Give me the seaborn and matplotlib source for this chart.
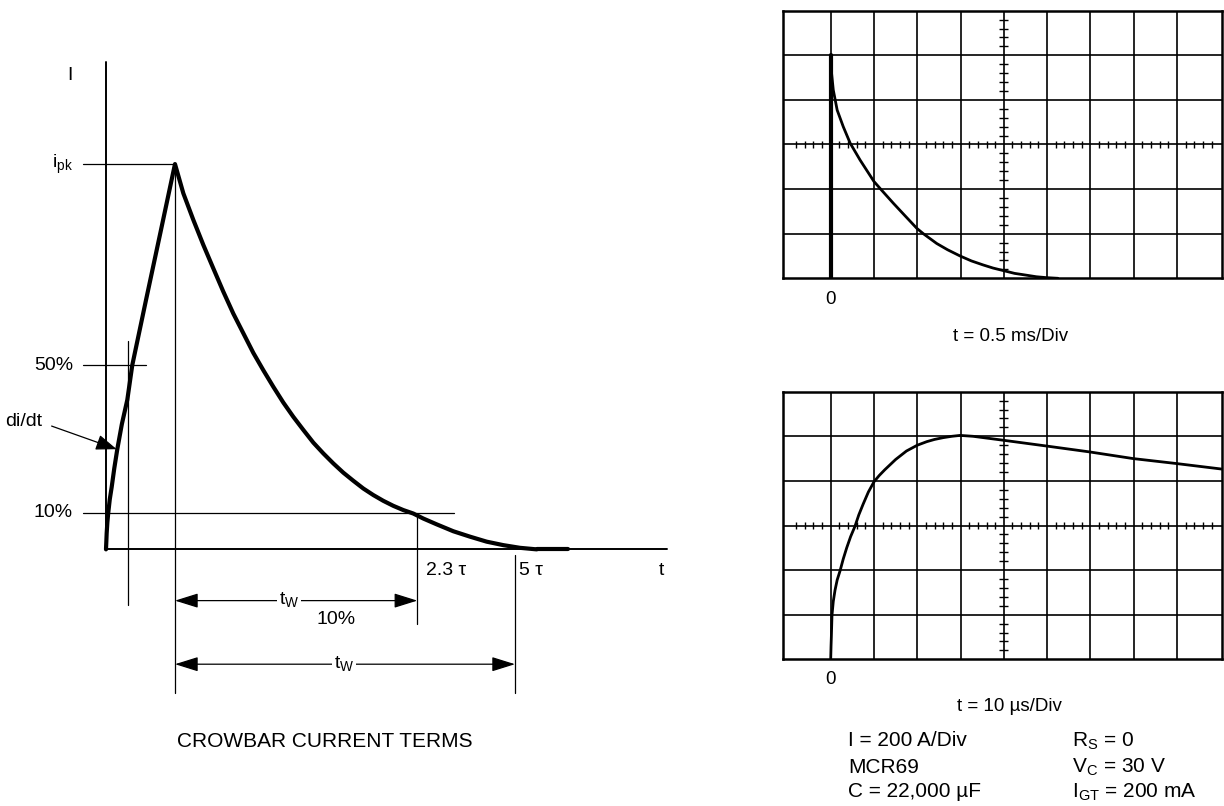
import numpy as np
import matplotlib
matplotlib.use("Agg")
import matplotlib.pyplot as plt
import seaborn as sns
from matplotlib.patches import ArrowStyle

sns.set_theme(style="white")
plt.rcParams["font.family"] = ["Liberation Sans", "DejaVu Sans"]
NARROW = ["Liberation Sans Narrow", "Liberation Sans", "DejaVu Sans"]

# -----------------------------
# Data
# -----------------------------

# left sketch: time in sketch units (peak = 1), current as fraction of i_pk
crowbar_t = [0, 0.005, 0.01, 0.02, 0.033, 0.055, 0.083, 0.12, 0.164, 0.23,
             0.309, 0.381, 0.58, 0.79, 1.0,
             1.121, 1.266, 1.411, 1.556, 1.7, 1.845, 1.99, 2.135, 2.28,
             2.425, 2.57, 2.715, 2.86, 3.005, 3.15, 3.295, 3.44, 3.585,
             3.729, 3.874, 4.019, 4.164, 4.309, 4.454, 4.599, 4.792, 5.034,
             5.275, 5.517, 5.758, 6.0, 6.242]
crowbar_i = [0, 0.02, 0.042, 0.07, 0.095, 0.13, 0.162, 0.21, 0.26, 0.325,
             0.388, 0.478, 0.647, 0.823, 1.0,
             0.924, 0.855, 0.79, 0.729, 0.669, 0.612, 0.561, 0.51, 0.465,
             0.422, 0.381, 0.344, 0.31, 0.277, 0.249, 0.223, 0.199, 0.178,
             0.158, 0.141, 0.126, 0.113, 0.102, 0.093, 0.08, 0.065, 0.047,
             0.033, 0.02, 0.011, 0.004, 0.0]
tail_t = [6.242, 6.69]
tail_i = [0.0, 0.0]

level_pk = 1.0
level_50 = 0.478
level_10 = 0.095
t_50 = 0.323
t_pk = 1.0
t_23tau = 4.512
t_5tau = 5.928

# scope traces, in divisions
fast_t = [0, 0.02, 0.06, 0.15, 0.29, 0.45, 0.68, 1.0, 1.2, 1.45, 1.7, 1.99,
          2.14, 2.45, 2.7, 2.99, 3.25, 3.52, 3.75, 4.0, 4.25, 4.52, 4.75,
          4.98, 5.25]
fast_i = [5.0, 4.6, 4.22, 3.77, 3.4, 3.03, 2.65, 2.17, 1.95, 1.68, 1.42,
          1.12, 1.0, 0.78, 0.64, 0.5, 0.39, 0.3, 0.23, 0.17, 0.11, 0.07,
          0.035, 0.015, 0.0]
zero_t = [0, 0]
zero_i = [0, 5.0]

slow_t = [0, 0.008, 0.015, 0.03, 0.06, 0.1, 0.15, 0.215, 0.29, 0.37, 0.46,
          0.56, 0.65, 0.75, 0.87, 1.0, 1.12, 1.25, 1.5, 1.75, 2.0, 2.22,
          2.4, 2.6, 2.8, 2.99, 3.29, 4.0, 5.0, 5.98, 6.99, 7.98, 9.08]
slow_i = [0, 0.3, 0.5, 0.99, 1.3, 1.55, 1.78, 1.98, 2.25, 2.5, 2.75,
          2.98, 3.24, 3.48, 3.75, 3.98, 4.12, 4.25, 4.48, 4.67, 4.8, 4.88,
          4.93, 4.97, 5.0, 5.02, 5.0, 4.91, 4.78, 4.65, 4.5, 4.39, 4.26]

W, H = 1224, 806
fig = plt.figure(figsize=(W / 100, H / 100), dpi=100)

# -----------------------------
# Crowbar current terms sketch
# -----------------------------
ax = fig.add_axes([0, 0, 700 / W, 1])
ax.set_xlim(-1.536, 8.609)
ax.set_ylim(-0.666, 1.4257)
ax.axis("off")

thin = dict(color="black", lw=0.9)
ax.plot([0, 0], [0, 1.264], color="black", lw=1.4)
ax.plot([0, 8.125], [0, 0], color="black", lw=1.4)
ax.plot([-0.338, t_pk], [level_pk, level_pk], **thin)
ax.plot([-0.338, 0.58], [level_50, level_50], **thin)
ax.plot([-0.338, 5.04], [level_10, level_10], **thin)
ax.plot([t_50, t_50], [0.541, -0.145], **thin)
ax.plot([t_pk, t_pk], [level_pk, -0.372], **thin)
ax.plot([t_23tau, t_23tau], [level_10, -0.194], **thin)
ax.plot([t_5tau, t_5tau], [-0.015, -0.372], **thin)

sns.lineplot(x=crowbar_t, y=crowbar_i, ax=ax, color="black", lw=3.0,
             sort=False, estimator=None)
sns.lineplot(x=tail_t, y=tail_i, ax=ax, color="black", lw=3.0,
             sort=False, estimator=None)

dim = ArrowStyle("<|-|>", head_length=0.8, head_width=0.25)
for y, t_end in [(-0.133, t_23tau), (-0.298, t_5tau)]:
    ax.annotate("", xy=(t_end, y), xytext=(t_pk, y),
                arrowprops=dict(arrowstyle=dim, mutation_scale=18, lw=0.9,
                                color="black", shrinkA=0, shrinkB=0))
ax.annotate("", xy=(0.155, 0.26), xytext=(-0.788, 0.32),
            arrowprops=dict(arrowstyle=ArrowStyle("-|>", head_length=0.8, head_width=0.3),
                            mutation_scale=16, lw=0.9, color="black",
                            shrinkA=0, shrinkB=0))

lab = dict(family=NARROW, fontsize=14, color="black")
ax.text(-0.52, 1.231, "I", ha="center", va="center", **lab)
ax.text(-0.478, level_pk, "i$_\\mathregular{pk}$", ha="right", va="center", **lab)
ax.text(-0.478, level_50, "50%", ha="right", va="center", **lab)
ax.text(-0.478, level_10, "10%", ha="right", va="center", **lab)
ax.text(-0.93, 0.331, "di/dt", ha="right", va="center", **lab)
ax.text(4.638, -0.054, "2.3 \u03c4", ha="left", va="center", **lab)
ax.text(5.986, -0.054, "5 \u03c4", ha="left", va="center", **lab)
ax.text(8.05, -0.054, "t", ha="center", va="center", **lab)
box = dict(facecolor="white", edgecolor="none", pad=1.5)
ax.text(2.652, -0.133, "t$_\\mathregular{W}$", ha="center", va="center", bbox=box, **lab)
ax.text(3.449, -0.298, "t$_\\mathregular{W}$", ha="center", va="center", bbox=box, **lab)
ax.text(3.34, -0.183, "10%", ha="center", va="center", **lab)
ax.text(3.174, -0.499, "CROWBAR CURRENT TERMS", ha="center", va="center",
        fontsize=15, color="black")


# -----------------------------
# Oscilloscope panels
# -----------------------------
def scope(axs, t, i, lw):
    axs.set_xlim(-1.095, 9.04)
    axs.set_ylim(0, 6)
    axs.set_xticks([])
    axs.set_yticks([])
    for s in axs.spines.values():
        s.set_visible(True)
        s.set_color("black")
        s.set_linewidth(1.8)
    for x in range(0, 9):
        axs.axvline(x, color="black", lw=1.2)
    for y in range(1, 6):
        axs.axhline(y, color="black", lw=1.2)
    sub = np.round(np.arange(-1.0, 9.01, 0.2), 1)
    sub = sub[(np.abs(sub - np.round(sub)) > 0.05) & (sub < 9.0)]
    axs.vlines(sub, 3 - 0.08, 3 + 0.08, color="black", lw=1.0)
    sub_y = np.round(np.arange(0, 6.01, 0.2), 1)
    sub_y = sub_y[np.abs(sub_y - np.round(sub_y)) > 0.05]
    axs.hlines(sub_y, 4 - 0.105, 4 + 0.105, color="black", lw=1.0)
    sns.lineplot(x=t, y=i, ax=axs, color="black", lw=lw, sort=False,
                 estimator=None)
    axs.set_xlabel("")
    axs.set_ylabel("")


scope_lab = dict(family=NARROW, fontsize=13.5, color="black", ha="center",
                 va="center", clip_on=False)

left = 783.3 / W
width = (1222 - 783.3) / W
ax1 = fig.add_axes([left, (H - 278.3) / H, width, 267.6 / H])
scope(ax1, fast_t, fast_i, 2.0)
sns.lineplot(x=zero_t, y=zero_i, ax=ax1, color="black", lw=3.0, sort=False,
             estimator=None)
ax1.text(0, -0.47, "0", **scope_lab)
ax1.text(4.16, -1.3, "t = 0.5 ms/Div", **scope_lab)

ax2 = fig.add_axes([left, (H - 659.3) / H, width, 267.6 / H])
scope(ax2, slow_t, slow_i, 2.0)
ax2.text(0, -0.46, "0", **scope_lab)
ax2.text(4.14, -1.06, "t = 10 \u00b5s/Div", **scope_lab)

info = dict(fontsize=15, color="black", ha="left", va="center", clip_on=False)
ax2.text(0.41, -1.83, "I = 200 A/Div", **info)
ax2.text(0.41, -2.43, "MCR69", **info)
ax2.text(0.41, -2.97, "C = 22,000 \u00b5F", **info)
ax2.text(5.57, -1.83, "R$_\\mathregular{S}$ = 0", **info)
ax2.text(5.57, -2.43, "V$_\\mathregular{C}$ = 30 V", **info)
ax2.text(5.57, -2.97, "I$_\\mathregular{GT}$ = 200 mA", **info)

fig.savefig("out.png", dpi=100, facecolor="white")
